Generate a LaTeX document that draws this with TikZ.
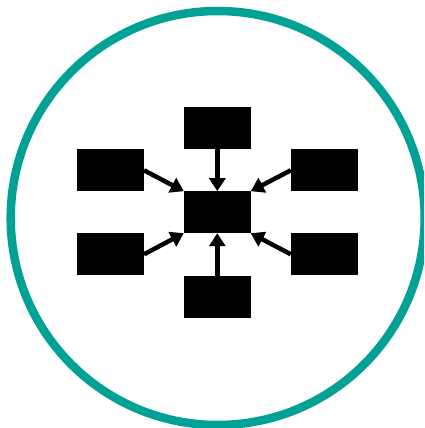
\documentclass[tikz,border=0pt]{standalone}
\usetikzlibrary{arrows.meta}
\definecolor{teal1}{RGB}{2,161,150}
\begin{document}
\begin{tikzpicture}[x=1pt,y=-1pt,
  blk/.style={fill=black,draw=none,minimum width=67pt,minimum height=42pt,inner sep=0pt,outer sep=0pt},
  conn/.style={line width=4.5pt,-{Triangle[length=13pt,width=16pt]},shorten >=0pt}]
\useasboundingbox (0,0) rectangle (424,428);
\clip (0,0) rectangle (424,428);
\draw[teal1,line width=8.5pt] (217.7,218) circle[radius=207];
\node[blk] (c) at (217.3,212.2) {};
\node[blk] (t) at (217.3,128.2) {};
\node[blk] (b) at (217.3,296.5) {};
\node[blk] (lt) at (110.5,170.3) {};
\node[blk] (lb) at (110.5,254.3) {};
\node[blk] (rt) at (324.3,170.3) {};
\node[blk] (rb) at (324.3,254.3) {};
\draw[conn] (t.south) -- (c.north);
\draw[conn] (b.north) -- (c.south);
\draw[conn] (lt.east) -- (c.north west);
\draw[conn] (lb.east) -- (c.south west);
\draw[conn] (rt.west) -- (c.north east);
\draw[conn] (rb.west) -- (c.south east);
\end{tikzpicture}
\end{document}
